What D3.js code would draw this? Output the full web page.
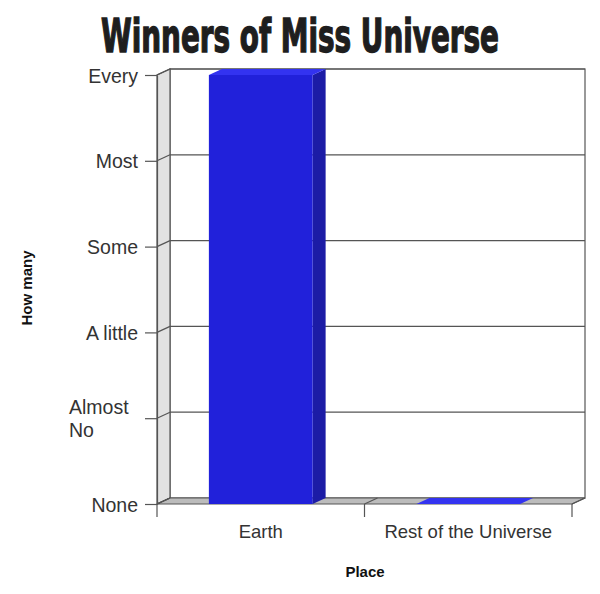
<!DOCTYPE html>
<html>
<head>
<meta charset="utf-8">
<script src="https://cdn.jsdelivr.net/npm/d3@7"></script>
<style>
  body { margin: 0; background: #fff; }
  text { font-family: "Liberation Sans", Arial, sans-serif; fill: #333; }
</style>
</head>
<body>
<div id="chart"></div>
<script>
// data
var places = ["Earth", "Rest of the Universe"];
var winners = [5, 0];
var levels = ["None", "Almost No", "A little", "Some", "Most", "Every"];

var w = 600, h = 594;
var plotLeft = 157, plotRight = 572, plotBottom = 504, plotTop = 75;
var dx = 13, dy = -6;   // depth of the fake 3d

var svg = d3.select("#chart").append("svg")
  .attr("width", w)
  .attr("height", h);

var xScale = d3.scaleBand()
  .domain(places)
  .range([plotLeft, plotRight])
  .padding(0);

var yScale = d3.scaleLinear()
  .domain([0, levels.length - 1])
  .range([plotBottom, plotTop]);

var line = "#555";

// back wall
svg.append("rect")
  .attr("x", plotLeft + dx)
  .attr("y", plotTop + dy)
  .attr("width", plotRight - plotLeft)
  .attr("height", plotBottom - plotTop)
  .attr("fill", "#fff")
  .attr("stroke", line)
  .attr("stroke-width", 1.2);

// gridlines on back wall
svg.selectAll(".grid")
  .data(d3.range(1, levels.length))
  .enter().append("line")
  .attr("x1", plotLeft + dx)
  .attr("x2", plotRight + dx)
  .attr("y1", function(d) { return yScale(d) + dy; })
  .attr("y2", function(d) { return yScale(d) + dy; })
  .attr("stroke", line)
  .attr("stroke-width", 1.2);

// left wall
svg.append("polygon")
  .attr("points", [[plotLeft, plotBottom], [plotLeft, plotTop], [plotLeft + dx, plotTop + dy], [plotLeft + dx, plotBottom + dy]].join(" "))
  .attr("fill", "#e2e2e2")
  .attr("stroke", line)
  .attr("stroke-width", 1.2);

// floor
svg.append("polygon")
  .attr("points", [[plotLeft, plotBottom], [plotRight, plotBottom], [plotRight + dx, plotBottom + dy], [plotLeft + dx, plotBottom + dy]].join(" "))
  .attr("fill", "#bcbcbc")
  .attr("stroke", line)
  .attr("stroke-width", 1.2);

// little diagonals where ticks meet the walls
svg.selectAll(".ydiag")
  .data(d3.range(0, levels.length))
  .enter().append("line")
  .attr("x1", plotLeft).attr("x2", plotLeft + dx)
  .attr("y1", function(d) { return yScale(d); })
  .attr("y2", function(d) { return yScale(d) + dy; })
  .attr("stroke", line)
  .attr("stroke-width", 1.2);

var xEdges = places.map(function(p) { return xScale(p); }).concat([plotRight]);
svg.selectAll(".xdiag")
  .data(xEdges)
  .enter().append("line")
  .attr("x1", function(d) { return d; })
  .attr("x2", function(d) { return d + dx; })
  .attr("y1", plotBottom).attr("y2", plotBottom + dy)
  .attr("stroke", line)
  .attr("stroke-width", 1.2);

// bars
var bw = xScale.bandwidth() / 2;
var bars = svg.selectAll(".bar")
  .data(places.map(function(p, i) { return { place: p, value: winners[i] }; }))
  .enter().append("g");

bars.append("polygon")   // side
  .attr("points", function(d) {
    var x1 = xScale(d.place) + bw * 1.5, yt = yScale(d.value);
    return [[x1, yt], [x1 + dx, yt + dy], [x1 + dx, plotBottom + dy], [x1, plotBottom]].join(" ");
  })
  .attr("fill", "#1c1ca6");

bars.append("polygon")   // top
  .attr("points", function(d) {
    var x0 = xScale(d.place) + bw / 2, x1 = x0 + bw, yt = yScale(d.value);
    return [[x0, yt], [x0 + dx, yt + dy], [x1 + dx, yt + dy], [x1, yt]].join(" ");
  })
  .attr("fill", "#3333f0");

bars.append("rect")      // front
  .attr("x", function(d) { return xScale(d.place) + bw / 2; })
  .attr("y", function(d) { return yScale(d.value); })
  .attr("width", bw)
  .attr("height", function(d) { return plotBottom - yScale(d.value); })
  .attr("fill", "#2121da");

// y axis
var yAxis = d3.axisLeft(yScale)
  .tickValues(d3.range(0, levels.length))
  .tickSize(12)
  .tickSizeOuter(0)
  .tickFormat(function(d) { return levels[d]; });

var yAxisG = svg.append("g")
  .attr("transform", "translate(" + plotLeft + ",0)")
  .call(yAxis);
yAxisG.select(".domain").attr("stroke", line).attr("stroke-width", 1.2);
yAxisG.selectAll(".tick line").attr("stroke", line).attr("stroke-width", 1.2);
yAxisG.selectAll(".tick text")
  .attr("x", -19)
  .attr("dy", null)
  .attr("y", 7)
  .style("font-size", "19.5px")
  .style("font-family", "Liberation Sans, Arial, sans-serif")
  .attr("fill", "#333")
  .each(function(d) {
    var words = levels[d].split(" ");
    if (levels[d] === "Almost No") {
      var t = d3.select(this).text(null)
        .attr("text-anchor", "start")
        .attr("x", -88)
        .attr("y", -5);
      t.append("tspan").attr("x", -88).attr("dy", 0).text(words[0]);
      t.append("tspan").attr("x", -88).attr("dy", 23).text(words[1]);
    }
  });

// x axis
svg.selectAll(".xtick")
  .data(xEdges)
  .enter().append("line")
  .attr("x1", function(d) { return d; })
  .attr("x2", function(d) { return d; })
  .attr("y1", plotBottom).attr("y2", plotBottom + 13)
  .attr("stroke", line)
  .attr("stroke-width", 1.2);

svg.selectAll(".xlabel")
  .data(places)
  .enter().append("text")
  .attr("x", function(d) { return xScale(d) + xScale.bandwidth() / 2; })
  .attr("y", 538)
  .attr("text-anchor", "middle")
  .style("font-size", "18.5px")
  .text(function(d) { return d; });

// titles
svg.append("text")
  .attr("x", 300)
  .attr("y", 52)
  .attr("text-anchor", "middle")
  .attr("textLength", 398)
  .attr("lengthAdjust", "spacingAndGlyphs")
  .style("font-family", "DejaVu Sans Condensed, DejaVu Sans, sans-serif")
  .style("font-stretch", "condensed")
  .style("font-weight", "bold")
  .style("font-size", "46px")
  .style("fill", "#1e1e1e")
  .style("stroke", "#1e1e1e")
  .style("stroke-width", "1.4px")
  .text("Winners of Miss Universe");

svg.append("text")
  .attr("x", 365)
  .attr("y", 577)
  .attr("text-anchor", "middle")
  .style("font-weight", "bold")
  .style("font-size", "15px")
  .style("fill", "#111")
  .text("Place");

svg.append("text")
  .attr("transform", "translate(32,288) rotate(-90)")
  .attr("text-anchor", "middle")
  .style("font-weight", "bold")
  .style("font-size", "15px")
  .style("fill", "#111")
  .text("How many");
</script>
</body>
</html>
